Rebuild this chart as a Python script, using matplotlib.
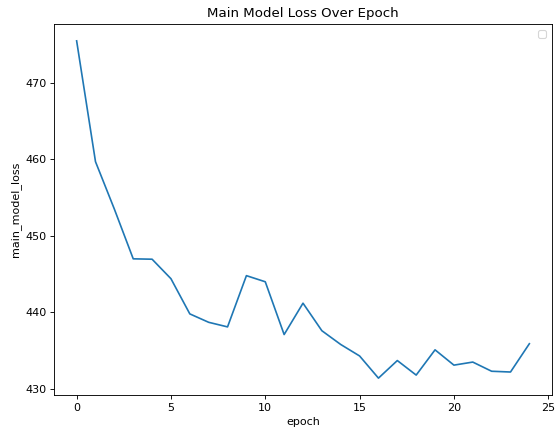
import matplotlib
matplotlib.use('Agg')
import matplotlib.pyplot as plt

epochs = list(range(25))
main_model_loss = [475.5, 459.7, 453.5, 447.0, 446.95, 444.4, 439.8, 438.7, 438.1,
                   444.8, 444.0, 437.1, 441.2, 437.6, 435.8, 434.3, 431.4, 433.7,
                   431.8, 435.1, 433.1, 433.5, 432.3, 432.2, 435.9]


def main():
    # 8x6 inch canvas rendered at 80 dpi, cropped to 555x434 px
    fig = plt.figure(figsize=(555 / 80, 434 / 80), dpi=80)
    ax = fig.add_axes([54 / 555, 39 / 434, 498 / 555, 371 / 434])
    ax.plot(epochs, main_model_loss)
    ax.set_xlabel('epoch')
    ax.set_ylabel('main_model_loss')
    ax.set_title('Main Model Loss Over Epoch')
    ax.legend()
    fig.savefig('out.png', dpi=80)


if __name__ == '__main__':
    main()
